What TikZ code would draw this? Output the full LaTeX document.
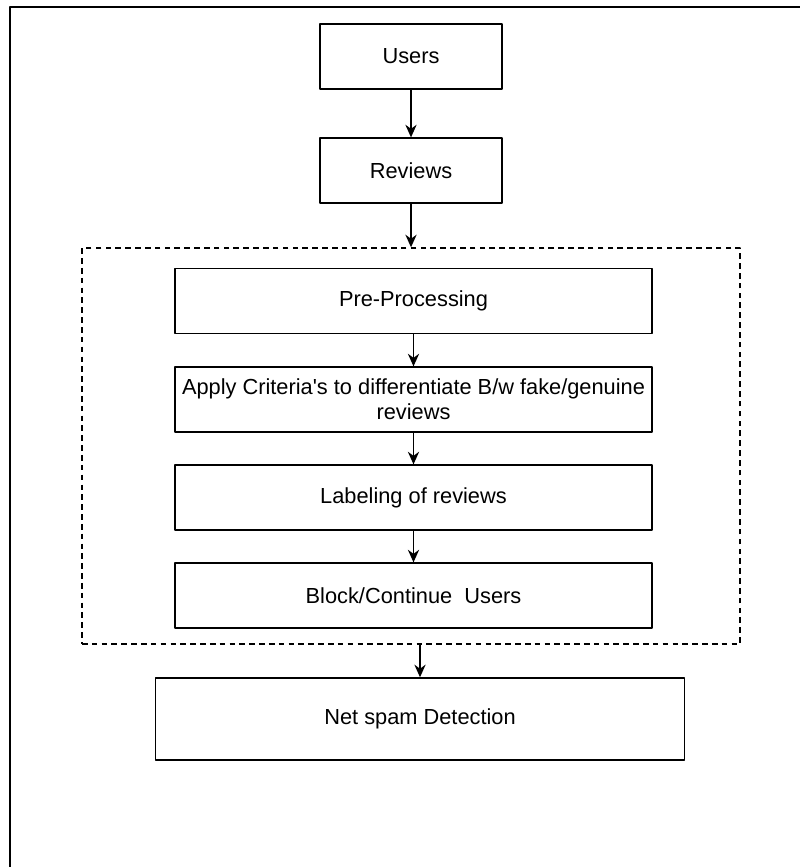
\documentclass[tikz,border=0pt]{standalone}
\usepackage{fontspec}
\setmainfont{Liberation Sans}
\usetikzlibrary{arrows.meta}
\begin{document}
\begin{tikzpicture}[x=0.025cm, y=-0.025cm, line join=round,
	font=\fontsize{15.5}{18}\selectfont, >={Stealth[length=9pt,width=8pt]},
	box/.style={draw, line width=1pt, align=center, inner sep=0.5pt},
	flow/.style={->, line width=1.1pt}]
	\useasboundingbox (0,0) rectangle (800,867);
	\path
	(411,56.5) coordinate (U)
	(411,170.5) coordinate (R)
	(411,446) coordinate (G)
	(413.5,301) coordinate (P)
	(413.5,399.5) coordinate (A)
	(413.5,497.5) coordinate (L)
	(413.5,595.5) coordinate (B)
	(420,719) coordinate (N)
	;
	% outer frame, open at the bottom and right
	\draw[line width=1.3pt] (10,867) -- (10,7) -- (800,7);
	\node[box, minimum width=4.55cm, minimum height=1.62cm] (users) at (U) {Users};
	\node[box, minimum width=4.55cm, minimum height=1.62cm] (reviews) at (R) {Reviews};
	\node[draw, dash pattern=on 4pt off 3pt, line width=0.9pt,
		minimum width=16.45cm, minimum height=9.9cm] (grp) at (G) {};
	\node[box, minimum width=11.92cm, minimum height=1.62cm] (pre) at (P) {Pre-Processing};
	\node[box, minimum width=11.92cm, minimum height=1.62cm] (apply) at (A)
		{Apply Criteria\textquotesingle s to differentiate B/w fake/genuine\\reviews};
	\node[box, minimum width=11.92cm, minimum height=1.62cm] (label) at (L) {Labeling of reviews};
	\node[box, minimum width=11.92cm, minimum height=1.62cm] (block) at (B) {Block/Continue\ \ Users};
	\node[box, minimum width=13.22cm, minimum height=2.05cm] (net) at (N) {Net spam Detection};
	\foreach \a/\b in {users/reviews,reviews/grp,pre/apply,apply/label,label/block}{
		\draw[flow] (\a) -- (\b);}
	\draw[flow] (grp.south -| net.north) -- (net.north);
\end{tikzpicture}
\end{document}
